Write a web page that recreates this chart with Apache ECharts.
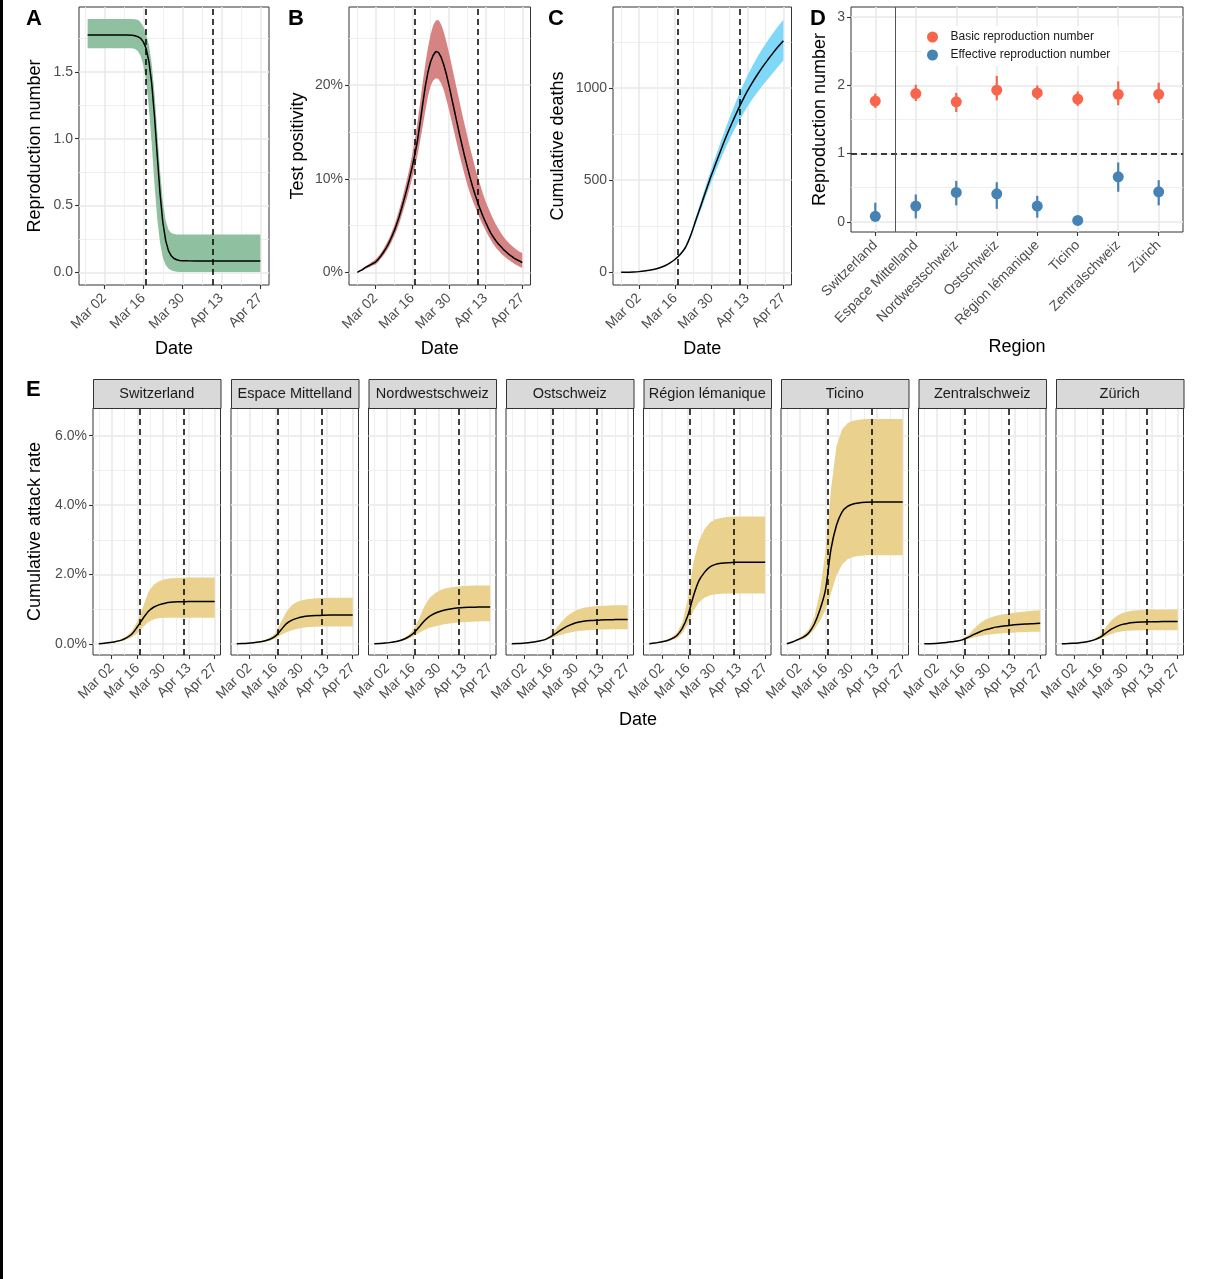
<!DOCTYPE html>
<html><head><meta charset="utf-8">
<script src="https://cdn.jsdelivr.net/npm/echarts@6/dist/echarts.min.js"></script>
<style>html,body{margin:0;padding:0;background:#fff}#c{width:1205px;height:1279px}</style>
</head><body><div id="c"></div>
<script>
// ================= DATA =================
// x values are days relative to Mar 02 (0 = Mar 02)
const DATE_TICKS = [0, 14, 28, 42, 56];
const DATE_LABELS = ['Mar 02', 'Mar 16', 'Mar 30', 'Apr 13', 'Apr 27'];
const DATE_MINOR = [-7, 7, 21, 35, 49];
const VLINES = [15, 39]; // Mar 17, Apr 10

// Panel A: reproduction number
const A_DAYS = [-6,-2,2,6,8,10,11,12,13,14,15,16,17,18,19,20,21,22,23,24,25,26,27,28,30,33,36,40,44,48,52,56];
const A_MED = [1.776,1.776,1.776,1.776,1.775,1.773,1.770,1.763,1.751,1.724,1.674,1.577,1.413,1.168,0.870,0.587,0.373,0.239,0.163,0.124,0.104,0.094,0.089,0.087,0.086,0.085,0.085,0.085,0.085,0.085,0.085,0.085];
const A_HI = [1.896,1.896,1.896,1.896,1.896,1.896,1.894,1.89,1.87,1.84,1.78,1.70,1.56,1.34,1.05,0.76,0.53,0.39,0.32,0.295,0.287,0.284,0.283,0.283,0.283,0.283,0.283,0.283,0.283,0.283,0.283,0.283];
const A_LO = [1.676,1.676,1.676,1.676,1.676,1.676,1.67,1.655,1.62,1.55,1.43,1.23,0.96,0.66,0.40,0.22,0.11,0.055,0.028,0.015,0.008,0.005,0.003,0.003,0.003,0.003,0.003,0.003,0.003,0.003,0.003,0.003];
const A_YTICKS = [0, 0.5, 1, 1.5];
const A_YLABELS = ['0.0', '0.5', '1.0', '1.5'];
const A_YMINOR = [0.25, 0.75, 1.25, 1.75];

// Panel B: test positivity (%)
const B_DAYS = [-7,-6,-5,-4,-3,-2,-1,0,1,2,3,4,5,6,7,8,9,10,11,12,13,14,15,16,17,18,19,20,21,22,23,24,25,26,27,28,29,30,31,32,33,34,35,36,37,38,39,40,41,42,43,44,45,46,47,48,49,50,51,52,53,54,55,56];
const B_MED = [0,0.15,0.3,0.5,0.65,0.8,0.95,1.1,1.4,1.75,2.15,2.6,3.1,3.7,4.35,5.1,5.95,6.9,7.9,8.95,10.1,11.3,12.6,14.1,16.0,18.0,19.9,21.4,22.5,23.2,23.6,23.5,23.0,22.2,21.2,20.0,18.7,17.4,16.1,14.8,13.6,12.4,11.3,10.2,9.2,8.3,7.5,6.7,6.0,5.35,4.75,4.2,3.75,3.35,3.0,2.7,2.4,2.15,1.9,1.7,1.5,1.35,1.2,1.05];
const B_HI = [0,0.2,0.4,0.6,0.8,1.0,1.2,1.4,1.7,2.05,2.5,3.0,3.55,4.2,4.9,5.75,6.7,7.7,8.8,9.95,11.2,12.6,14.2,16.0,18.1,20.3,22.3,24.0,25.4,26.4,26.9,26.95,26.5,25.7,24.7,23.5,22.2,20.9,19.6,18.3,17.0,15.8,14.6,13.4,12.3,11.2,10.2,9.3,8.4,7.6,6.9,6.25,5.65,5.1,4.6,4.15,3.75,3.4,3.1,2.85,2.6,2.4,2.2,2.07];
const B_LO = [0,0.1,0.2,0.35,0.5,0.6,0.75,0.85,1.1,1.45,1.8,2.2,2.65,3.2,3.8,4.45,5.2,6.1,7.0,7.95,9.0,10.1,11.2,12.5,14.0,15.6,17.3,18.8,19.9,20.5,20.75,20.65,20.2,19.5,18.5,17.4,16.2,15.0,13.8,12.6,11.5,10.4,9.4,8.5,7.7,7.0,6.3,5.65,5.05,4.5,3.95,3.45,3.0,2.6,2.3,2.0,1.75,1.5,1.3,1.1,0.9,0.75,0.6,0.47];
const B_YTICKS = [0, 10, 20];
const B_YLABELS = ['0%', '10%', '20%'];
const B_YMINOR = [5, 15, 25];

// Panel C: cumulative deaths
const C_DAYS = [-7,-4,-2,0,2,4,6,8,10,12,14,16,18,20,22,24,26,28,30,32,34,36,38,40,42,44,46,48,50,52,54,56];
const C_MED = [0,1,2,4,7,11,17,25,36,51,71,98,136,200,282,363,445,525,600,673,743,808,870,928,982,1030,1074,1115,1153,1190,1224,1256];
const C_HI = [0,1,2,4,7,11,17,25,36,52,74,103,144,212,300,387,475,561,642,721,798,870,940,1005,1066,1120,1170,1216,1258,1298,1336,1370];
const C_LO = [0,1,2,4,7,11,17,25,36,50,68,93,128,188,264,339,415,489,558,625,688,746,800,851,898,940,978,1014,1048,1082,1116,1148];
const C_YTICKS = [0, 500, 1000];
const C_YLABELS = ['0', '500', '1000'];
const C_YMINOR = [250, 750, 1250];

// Panel D: reproduction numbers by region
const REGIONS = ['Switzerland','Espace Mittelland','Nordwestschweiz','Ostschweiz','Région lémanique','Ticino','Zentralschweiz','Zürich'];
const R0_MED = [1.77,1.88,1.76,1.93,1.89,1.80,1.87,1.87];
const R0_LO  = [1.67,1.77,1.61,1.78,1.79,1.70,1.71,1.74];
const R0_HI  = [1.88,2.01,1.89,2.14,2.00,1.91,2.06,2.04];
const RE_MED = [0.08,0.23,0.43,0.41,0.23,0.02,0.66,0.44];
const RE_LO  = [0.00,0.05,0.24,0.19,0.06,0.00,0.44,0.24];
const RE_HI  = [0.28,0.40,0.60,0.58,0.38,0.04,0.87,0.61];
const D_YTICKS = [0, 1, 2, 3];
const D_YLABELS = ['0', '1', '2', '3'];
const D_YMINOR = [0.5, 1.5, 2.5];
const D_SEPARATOR = 1.5;
const D_THRESHOLD = 1;

// Panel E: cumulative attack rate (%) by region
const E_DAYS = [-7,-4,-1,2,5,8,11,14,17,20,23,26,29,32,36,40,44,48,52,56];
const E_MED_SWITZERLAND = [0,0.012,0.037,0.061,0.098,0.17,0.28,0.49,0.73,0.94,1.06,1.13,1.17,1.195,1.21,1.215,1.22,1.22,1.22,1.22];
const E_HI_SWITZERLAND  = [0,0.015,0.045,0.08,0.13,0.22,0.37,0.64,1.05,1.50,1.71,1.81,1.86,1.89,1.90,1.91,1.91,1.91,1.91,1.91];
const E_LO_SWITZERLAND  = [0,0.008,0.028,0.045,0.07,0.12,0.19,0.30,0.48,0.63,0.71,0.74,0.75,0.75,0.75,0.75,0.75,0.75,0.75,0.75];
const E_MED_ESPACE = [0,0.005,0.015,0.03,0.05,0.08,0.13,0.22,0.40,0.58,0.68,0.74,0.78,0.80,0.815,0.825,0.83,0.83,0.83,0.83];
const E_HI_ESPACE  = [0,0.007,0.02,0.04,0.065,0.10,0.17,0.30,0.62,0.92,1.12,1.21,1.26,1.29,1.31,1.32,1.33,1.33,1.33,1.33];
const E_LO_ESPACE  = [0,0.003,0.01,0.02,0.035,0.06,0.09,0.15,0.25,0.33,0.39,0.43,0.46,0.48,0.49,0.50,0.50,0.50,0.50,0.50];
const E_MED_NORDWEST = [0,0.008,0.02,0.04,0.065,0.11,0.18,0.29,0.46,0.65,0.79,0.88,0.94,0.98,1.02,1.04,1.05,1.055,1.06,1.06];
const E_HI_NORDWEST  = [0,0.01,0.03,0.05,0.08,0.14,0.23,0.38,0.68,1.06,1.32,1.46,1.55,1.60,1.64,1.66,1.67,1.68,1.68,1.68];
const E_LO_NORDWEST  = [0,0.005,0.015,0.03,0.05,0.08,0.13,0.21,0.30,0.39,0.46,0.50,0.54,0.57,0.60,0.62,0.63,0.64,0.65,0.65];
const E_MED_OST = [0,0.005,0.015,0.03,0.05,0.08,0.12,0.20,0.30,0.41,0.50,0.57,0.62,0.65,0.67,0.68,0.69,0.695,0.70,0.70];
const E_HI_OST  = [0,0.006,0.018,0.035,0.06,0.09,0.14,0.25,0.43,0.63,0.80,0.91,0.99,1.04,1.07,1.09,1.10,1.11,1.11,1.11];
const E_LO_OST  = [0,0.004,0.012,0.025,0.04,0.065,0.10,0.16,0.21,0.26,0.30,0.34,0.365,0.385,0.40,0.41,0.415,0.42,0.42,0.42];
const E_MED_LEMAN = [0,0.02,0.05,0.08,0.14,0.24,0.45,0.82,1.38,1.82,2.06,2.22,2.29,2.32,2.34,2.35,2.35,2.35,2.35,2.35];
const E_HI_LEMAN  = [0,0.025,0.06,0.10,0.18,0.31,0.62,1.30,2.35,2.97,3.30,3.50,3.59,3.63,3.66,3.67,3.67,3.67,3.67,3.67];
const E_LO_LEMAN  = [0,0.015,0.04,0.06,0.10,0.16,0.30,0.57,0.95,1.20,1.33,1.40,1.43,1.44,1.45,1.45,1.45,1.45,1.45,1.45];
const E_MED_TICINO = [0,0.05,0.12,0.19,0.32,0.57,0.98,1.55,2.72,3.42,3.80,3.96,4.03,4.06,4.08,4.09,4.09,4.09,4.09,4.09];
const E_HI_TICINO  = [0,0.06,0.15,0.25,0.42,0.78,1.50,2.65,4.45,5.70,6.18,6.36,6.43,6.46,6.48,6.48,6.48,6.48,6.48,6.48];
const E_LO_TICINO  = [0,0.04,0.09,0.14,0.24,0.42,0.66,0.98,1.45,1.97,2.28,2.44,2.50,2.53,2.55,2.55,2.55,2.55,2.55,2.55];
const E_MED_ZENTRAL = [0,0.004,0.01,0.02,0.035,0.055,0.08,0.12,0.19,0.27,0.34,0.40,0.44,0.48,0.51,0.535,0.555,0.57,0.58,0.59];
const E_HI_ZENTRAL  = [0,0.005,0.012,0.025,0.04,0.065,0.095,0.15,0.26,0.43,0.58,0.69,0.76,0.81,0.85,0.88,0.91,0.93,0.95,0.97];
const E_LO_ZENTRAL  = [0,0.003,0.008,0.016,0.03,0.045,0.07,0.10,0.14,0.18,0.22,0.25,0.27,0.29,0.305,0.32,0.33,0.34,0.345,0.35];
const E_MED_ZURICH = [0,0.005,0.012,0.025,0.045,0.075,0.12,0.19,0.31,0.42,0.50,0.56,0.59,0.61,0.625,0.633,0.637,0.64,0.64,0.64];
const E_HI_ZURICH  = [0,0.006,0.015,0.03,0.055,0.09,0.15,0.27,0.48,0.68,0.81,0.89,0.93,0.96,0.975,0.985,0.99,0.99,0.99,0.99];
const E_LO_ZURICH  = [0,0.004,0.009,0.02,0.035,0.06,0.095,0.15,0.22,0.28,0.33,0.36,0.375,0.385,0.39,0.39,0.39,0.39,0.39,0.39];
const E_YTICKS = [0, 2, 4, 6];
const E_YLABELS = ['0.0%', '2.0%', '4.0%', '6.0%'];
const E_YMINOR = [1, 3, 5];

// ================= BUILD =================
const FONT = '"Liberation Sans", Arial, Helvetica, sans-serif';
const grids = [], xAxes = [], yAxes = [], series = [], graphics = [];

function lab(s, v) {
  const i = s.major.findIndex(m => Math.abs(m - v) < 1e-6);
  return i >= 0 ? s.labels[i] : '';
}
function pushAxes(arr, gi, s, isX, showLab) {
  const base = {type: 'value', gridIndex: gi, min: s.min, max: s.max, position: isX ? 'bottom' : 'left',
    axisLine: {show: false, onZero: false}, splitArea: {show: false}, silent: true, nameMoveOverlap: false};
  arr.push(Object.assign({}, base, {
    axisTick: {show: false, customValues: s.minor},
    axisLabel: {show: false, customValues: s.minor},
    splitLine: {show: true, customValues: s.minor, lineStyle: {color: '#EDEDED', width: 0.9}}
  }));
  arr.push(Object.assign({}, base, {
    axisTick: {show: showLab, length: 4, customValues: s.major, lineStyle: {color: '#333333', width: 1.1}},
    axisLabel: {show: showLab, customValues: s.major, formatter: v => lab(s, v), color: '#4D4D4D',
      fontSize: 14, fontFamily: FONT, margin: isX ? 11 : 6, rotate: isX && s.rotate ? 45 : 0, hideOverlap: false},
    splitLine: {show: true, customValues: s.major, lineStyle: {color: '#E9E9E9', width: 1.5}},
    name: s.name || '', nameLocation: 'middle', nameGap: s.nameGap || 0,
    nameTextStyle: {fontSize: 18, color: '#000', fontFamily: FONT}
  }));
  return arr.length - 1;
}
function addGrid(rect, xs, ys, showX, showY) {
  const gi = grids.length;
  grids.push(Object.assign({show: true, backgroundColor: '#fff', borderColor: '#333333', borderWidth: 1,
    containLabel: false, outerBoundsMode: 'none'}, rect));
  return {xi: pushAxes(xAxes, gi, xs, true, showX), yi: pushAxes(yAxes, gi, ys, false, showY)};
}
function vlineMark() {
  return {silent: true, symbol: ['none', 'none'], animation: false, label: {show: false},
    lineStyle: {color: '#000', type: [6, 4], width: 1.5},
    emphasis: {disabled: true}, data: VLINES.map(v => ({xAxis: v}))};
}
function addBand(ax, days, lo, hi, med, color, smooth) {
  // ribbon as one polygon through the axis scales
  series.push({type: 'custom', xAxisIndex: ax.xi, yAxisIndex: ax.yi, silent: true, animation: false, z: 2,
    data: days.map((d, i) => [d, lo[i], hi[i]]), encode: {x: 0, y: [1, 2]},
    renderItem: (params, api) => {
      if (params.dataIndex !== 0) return null;
      const top = days.map((d, i) => api.coord([d, hi[i]]));
      const bot = days.map((d, i) => api.coord([d, lo[i]])).reverse();
      return {type: 'polygon', shape: {points: top.concat(bot)}, style: {fill: color, stroke: null}};
    }});
  series.push({type: 'line', xAxisIndex: ax.xi, yAxisIndex: ax.yi, symbol: 'none', showSymbol: false,
    silent: true, animation: false, smooth: smooth, z: 3,
    data: days.map((d, i) => [d, med[i]]),
    lineStyle: {color: '#000', width: 1.5}, markLine: vlineMark()});
}

const X_A = {min: -9.1, max: 59.1, major: DATE_TICKS, minor: DATE_MINOR, labels: DATE_LABELS, rotate: true, name: 'Date', nameGap: 55};
const X_BC = {min: -10.15, max: 59.15, major: DATE_TICKS, minor: DATE_MINOR, labels: DATE_LABELS, rotate: true, name: 'Date', nameGap: 55};

// A
const axA = addGrid({left: 79, top: 7, width: 190, height: 278}, X_A,
  {min: -0.0945, max: 1.985, major: A_YTICKS, minor: A_YMINOR, labels: A_YLABELS, name: 'Reproduction number', nameGap: 35}, true, true);
addBand(axA, A_DAYS, A_LO, A_HI, A_MED, '#8FC1A0', false);
// B
const axB = addGrid({left: 349, top: 7, width: 181.5, height: 278}, X_BC,
  {min: -1.35, max: 28.35, major: B_YTICKS, minor: B_YMINOR, labels: B_YLABELS, name: 'Test positivity', nameGap: 42}, true, true);
addBand(axB, B_DAYS, B_LO, B_HI, B_MED, '#D58383', false);
// C
const axC = addGrid({left: 613, top: 7, width: 178.5, height: 278}, X_BC,
  {min: -68.5, max: 1438.5, major: C_YTICKS, minor: C_YMINOR, labels: C_YLABELS, name: 'Cumulative deaths', nameGap: 46}, true, true);
addBand(axC, C_DAYS, C_LO, C_HI, C_MED, '#80D8F8', 0.3);

// D
const RED = '#F8654A', BLUE = '#4682B4';
const REGION_POS = REGIONS.map((_, i) => i + 1);
const axD = addGrid({left: 851, top: 7, width: 332, height: 225},
  {min: 0.4, max: 8.6, major: REGION_POS, minor: [], labels: REGIONS, rotate: true, name: 'Region', nameGap: 106},
  {min: -0.15, max: 3.15, major: D_YTICKS, minor: D_YMINOR, labels: D_YLABELS, name: 'Reproduction number', nameGap: 22}, true, true);
function errBar(lo, hi, color, mark) {
  const s = {type: 'custom', xAxisIndex: axD.xi, yAxisIndex: axD.yi, silent: true, animation: false, z: 3,
    data: lo.map((l, i) => [REGION_POS[i], l, hi[i]]), encode: {x: 0, y: [1, 2]},
    renderItem: (params, api) => {
      const a = api.coord([api.value(0), api.value(1)]);
      const b = api.coord([api.value(0), api.value(2)]);
      return {type: 'line', shape: {x1: a[0], y1: a[1], x2: b[0], y2: b[1]}, style: {stroke: color, lineWidth: 2.2}};
    }};
  if (mark) s.markLine = {silent: true, symbol: ['none', 'none'], animation: false, label: {show: false},
    data: [
      {yAxis: D_THRESHOLD, lineStyle: {color: '#000', type: [6, 4], width: 1.5}},
      {xAxis: D_SEPARATOR, lineStyle: {color: '#555555', type: 'solid', width: 1}}
    ]};
  series.push(s);
}
errBar(R0_LO, R0_HI, RED, true);
errBar(RE_LO, RE_HI, BLUE, false);
series.push({type: 'scatter', name: 'Basic reproduction number', xAxisIndex: axD.xi, yAxisIndex: axD.yi,
  data: R0_MED.map((v, i) => [REGION_POS[i], v]), symbol: 'circle', symbolSize: 11, itemStyle: {color: RED, opacity: 1}, z: 4, animation: false});
series.push({type: 'scatter', name: 'Effective reproduction number', xAxisIndex: axD.xi, yAxisIndex: axD.yi,
  data: RE_MED.map((v, i) => [REGION_POS[i], v]), symbol: 'circle', symbolSize: 11, itemStyle: {color: BLUE, opacity: 1}, z: 4, animation: false});

// E facets
const E_SETS = [
  [E_LO_SWITZERLAND, E_HI_SWITZERLAND, E_MED_SWITZERLAND],
  [E_LO_ESPACE, E_HI_ESPACE, E_MED_ESPACE],
  [E_LO_NORDWEST, E_HI_NORDWEST, E_MED_NORDWEST],
  [E_LO_OST, E_HI_OST, E_MED_OST],
  [E_LO_LEMAN, E_HI_LEMAN, E_MED_LEMAN],
  [E_LO_TICINO, E_HI_TICINO, E_MED_TICINO],
  [E_LO_ZENTRAL, E_HI_ZENTRAL, E_MED_ZENTRAL],
  [E_LO_ZURICH, E_HI_ZURICH, E_MED_ZURICH]
];
const E_LEFT = [93, 231, 368.5, 506, 643.5, 781, 918.5, 1056];
const E_W = 127.5, E_TOP = 408, E_H = 247, STRIP_H = 29;
E_SETS.forEach((set, k) => {
  const ax = addGrid({left: E_LEFT[k], top: E_TOP, width: E_W, height: E_H},
    {min: -10.15, max: 59.15, major: DATE_TICKS, minor: DATE_MINOR, labels: DATE_LABELS, rotate: true},
    {min: -0.324, max: 6.80, major: E_YTICKS, minor: E_YMINOR, labels: E_YLABELS,
      name: k === 0 ? 'Cumulative attack rate' : '', nameGap: 49}, true, k === 0);
  addBand(ax, E_DAYS, set[0], set[1], set[2], '#EAD18E', 0.3);
  graphics.push({type: 'rect', silent: true, shape: {x: E_LEFT[k] + 0.5, y: E_TOP - STRIP_H + 0.5, width: E_W, height: STRIP_H},
    style: {fill: '#D9D9D9', stroke: '#333333', lineWidth: 1}, z: 10});
  graphics.push({type: 'text', silent: true, z: 11, style: {text: REGIONS[k], x: E_LEFT[k] + E_W / 2, y: E_TOP - STRIP_H / 2,
    textAlign: 'center', textVerticalAlign: 'middle', font: '14.5px ' + FONT, fill: '#1A1A1A'}});
});

// letters & misc text
[['A', 26, 19], ['B', 288, 19], ['C', 548, 19], ['D', 810, 19], ['E', 26, 390]].forEach(([t, x, y]) => {
  graphics.push({type: 'text', silent: true, z: 11, style: {text: t, x: x, y: y, textAlign: 'left', textVerticalAlign: 'middle',
    font: 'bold 22px ' + FONT, fill: '#000'}});
});
graphics.push({type: 'text', silent: true, z: 11, style: {text: 'Date', x: 638, y: 720, textAlign: 'center', textVerticalAlign: 'middle',
  font: '18px ' + FONT, fill: '#000'}});
graphics.push({type: 'rect', silent: true, z: 11, shape: {x: 0, y: 0, width: 3, height: 1279}, style: {fill: '#000'}});

const chart = echarts.init(document.getElementById('c'), null, {renderer: 'canvas'});
chart.setOption({
  animation: false,
  backgroundColor: '#fff',
  textStyle: {fontFamily: FONT},
  grid: grids,
  xAxis: xAxes,
  yAxis: yAxes,
  legend: {
    data: ['Basic reproduction number', 'Effective reproduction number'],
    orient: 'vertical', left: 922, top: 26, padding: [5, 8, 5, 5], itemWidth: 18, itemHeight: 11, itemGap: 6,
    backgroundColor: '#fff', selectedMode: false, icon: 'circle',
    textStyle: {fontSize: 12, color: '#1A1A1A', fontFamily: FONT, padding: [0, 0, 0, 4]}
  },
  tooltip: {show: false},
  series: series,
  graphic: {elements: graphics}
});
</script>
</body></html>
